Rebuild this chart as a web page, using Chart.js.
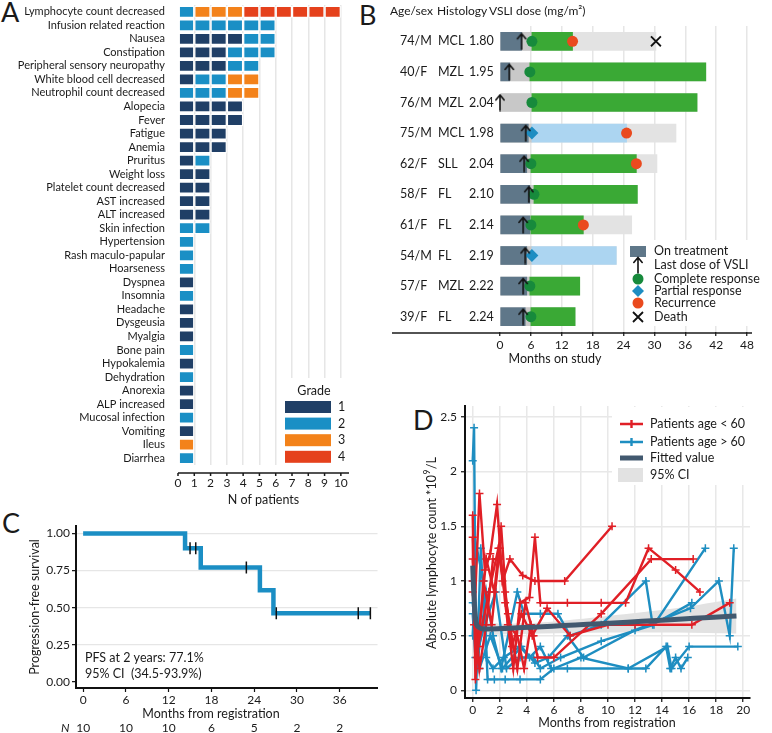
<!DOCTYPE html>
<html>
<head>
<meta charset="utf-8">
<script src="https://cdn.jsdelivr.net/npm/chart.js@4.4.1/dist/chart.umd.min.js"></script>
<style>
  body { margin: 0; background: #fff; width: 772px; height: 733px; position: relative; overflow: hidden; font-family: Lato, sans-serif; color: #1a1a1a; }
  canvas { position: absolute; }
  .tag { position: absolute; font-size: 27px; line-height: 27px; }
</style>
</head>
<body>
<div class="tag" style="left:1px;top:-2px">A</div>
<div class="tag" style="left:359px;top:1px">B</div>
<div class="tag" style="left:2px;top:509px">C</div>
<div class="tag" style="left:413px;top:406px">D</div>
<canvas id="aeChart" width="360" height="510" style="left:0;top:0"></canvas>
<canvas id="swimChart" width="402" height="370" style="left:370px;top:0"></canvas>
<canvas id="pfsChart" width="385" height="228" style="left:0;top:505px"></canvas>
<canvas id="lymphChart" width="392" height="338" style="left:380px;top:395px"></canvas>
<script>
// ---- panel A data
const aeNames = ['Lymphocyte count decreased', 'Infusion related reaction', 'Nausea', 'Constipation',
  'Peripheral sensory neuropathy', 'White blood cell decreased', 'Neutrophil count decreased', 'Alopecia',
  'Fever', 'Fatigue', 'Anemia', 'Pruritus', 'Weight loss', 'Platelet count decreased', 'AST increased',
  'ALT increased', 'Skin infection', 'Hypertension', 'Rash maculo-papular', 'Hoarseness', 'Dyspnea',
  'Insomnia', 'Headache', 'Dysgeusia', 'Myalgia', 'Bone pain', 'Hypokalemia', 'Dehydration', 'Anorexia',
  'ALP increased', 'Mucosal infection', 'Vomiting', 'Ileus', 'Diarrhea'];
const grade1 = [0, 0, 4, 3, 3, 1, 0, 4, 4, 3, 3, 1, 2, 2, 2, 2, 0, 0, 0, 0, 1, 0, 1, 1, 1, 0, 1, 0, 1, 1, 0, 1, 0, 0];
const grade2 = [1, 6, 2, 3, 2, 2, 3, 0, 0, 0, 0, 1, 0, 0, 0, 0, 2, 1, 1, 1, 0, 1, 0, 0, 0, 1, 0, 1, 0, 0, 1, 0, 0, 1];
const grade3 = [3, 0, 0, 0, 0, 2, 2, 0, 0, 0, 0, 0, 0, 0, 0, 0, 0, 0, 0, 0, 0, 0, 0, 0, 0, 0, 0, 0, 0, 0, 0, 0, 1, 0];
const grade4 = [6, 0, 0, 0, 0, 0, 0, 0, 0, 0, 0, 0, 0, 0, 0, 0, 0, 0, 0, 0, 0, 0, 0, 0, 0, 0, 0, 0, 0, 0, 0, 0, 0, 0];
const gradeLabels = ['1', '2', '3', '4'];
const gradeColors = ['#203f66', '#1a8fc5', '#f3821a', '#e5411c'];
const aeTicks = [0, 1, 2, 3, 4, 5, 6, 7, 8, 9, 10];

// ---- panel B data
const patients = ['74/M', '40/F', '76/M', '75/M', '62/F', '58/F', '61/F', '54/M', '57/F', '39/F'];
const histology = ['MCL', 'MZL', 'MZL', 'MCL', 'SLL', 'FL', 'FL', 'FL', 'MZL', 'FL'];
const doses = ['1.80', '1.95', '2.04', '1.98', '2.04', '2.10', '2.14', '2.19', '2.22', '2.24'];
const treatEnd = [4.2, 1.9, 0, 5.5, 5.2, 5.8, 5.8, 5.2, 5.2, 4.9];
const lastDose = [4.2, 1.8, 0, 5.0, 4.7, 5.6, 4.5, 4.9, 4.5, 4.5];
const respType = ['CR', 'CR', 'CR', 'PR', 'CR', 'CR', 'CR', 'PR', 'CR', 'CR'];
const respStart = [6.2, 5.8, 6.2, 6.2, 6.0, 6.6, 6.0, 6.2, 5.8, 6.0];
const respEnd = [14.1, 40.0, 38.3, 24.6, 26.5, 26.7, 16.2, 22.6, 15.5, 14.6];
const followEnd = [30.3, 40.0, 38.3, 34.2, 30.5, 26.7, 25.6, 22.6, 15.5, 14.6];
const recurrence = [14.1, null, null, 24.6, 26.5, null, 16.2, null, null, null];
const death = [30.3, null, null, null, null, null, null, null, null, null];
const swimTicks = [0, 6, 12, 18, 24, 30, 36, 42, 48];

// ---- panel C data
const kmTime = [0, 14.3, 16.5, 24.8, 26.7, 40.3];
const kmSurv = [1, 0.9, 0.771, 0.617, 0.463, 0.463];
const censorTime = [15.0, 15.8, 22.9, 27.1, 38.6, 40.3];
const riskTimes = [0, 6, 12, 18, 24, 30, 36];
const atRisk = [10, 10, 10, 6, 5, 2, 2];
const pfsYTicks = [0, 0.25, 0.5, 0.75, 1];

// ---- panel D data: [month, count]
const young1 = [[0, 1.4], [0.1, 0.6], [0.5, 1.8], [0.9, 1.1], [1.3, 1.25], [1.8, 1.7], [2.2, 1.0], [2.75, 1.2], [3.7, 1.05], [4.6, 1.0], [6.8, 1.0], [10.3, 1.5]];
const young2 = [[0, 1.6], [0.2, 0.1], [0.8, 1.0], [1.4, 0.6], [2.0, 1.3], [2.4, 0.8], [3.0, 0.2], [3.5, 0.8], [4.2, 0.85], [4.6, 1.4], [5.0, 0.8], [7.0, 0.8], [9.5, 0.8], [11.3, 0.8], [13.0, 1.3], [15.0, 1.1], [16.8, 0.9]];
const young3 = [[0, 1.2], [0.3, 0.3], [1.0, 1.2], [1.6, 0.9], [2.1, 1.5], [2.6, 0.6], [3.3, 0.5], [3.8, 0.2], [4.3, 0.6], [4.8, 0.3], [6.0, 0.3], [9.5, 0.7], [13.2, 1.2], [16.3, 1.2]];
const young4 = [[0, 0.9], [0.4, 0.4], [1.2, 0.9], [1.9, 1.3], [2.4, 0.9], [2.9, 0.4], [3.6, 0.7], [4.4, 0.5], [5.5, 0.75], [7.2, 0.5], [10.0, 0.6], [12.0, 0.6], [16.2, 0.6], [19.0, 0.8]];
const young5 = [[0, 1.0], [0.5, 0.2], [1.0, 0.6], [1.5, 1.2], [2.0, 1.2], [2.6, 0.7], [3.3, 0.2], [3.9, 0.8], [4.5, 0.5]];
const old1 = [[0, 2.1], [0.1, 2.4], [0.25, 0], [0.6, 1.3], [1.0, 0.3], [1.5, 0.2], [2.3, 0.3], [3.5, 0.4], [4.2, 0.3], [5.0, 0.4], [5.8, 0.2], [7.0, 0.2], [11.5, 0.2], [12.8, 0.2], [14.3, 0.4], [14.6, 0.2], [15.0, 0.3], [15.4, 0.2], [15.9, 0.3]];
const old2 = [[0, 0.5], [0.3, 1.3], [0.8, 1.0], [1.1, 0.1], [1.6, 0.1], [2.4, 0.1], [3.5, 0.1], [5.0, 0.1], [6.0, 0.2], [8.0, 0.3], [11.5, 0.2], [14.4, 0.4], [14.7, 0.2], [16.0, 0.4], [19.6, 0.4]];
const old3 = [[0, 1.0], [0.4, 0.3], [1.0, 0.9], [1.5, 0.5], [2.1, 0.2], [3.3, 0.9], [3.8, 0.7], [5.0, 0.7], [6.3, 0.7], [7.2, 0.5], [9.5, 0.6], [12.8, 1.0], [13.3, 0.6], [16.2, 0.8]];
const old4 = [[0, 0.7], [0.2, 0.3], [0.9, 0.6], [1.7, 0.9], [2.5, 0.2], [3.5, 0.3], [4.5, 0.3], [5.0, 0.2], [6.5, 0.3], [9.5, 0.45], [13.4, 0.6], [17.2, 1.3]];
const old5 = [[0, 0.8], [0.5, 0.2], [1.3, 0.5], [2.2, 0.2], [3.6, 0.4], [4.6, 0.25], [5.6, 0.3], [7.0, 0.5], [8.2, 0.3], [12.0, 0.55], [16.1, 0.75], [18.2, 1.0], [19.0, 0.5], [19.3, 1.3]];
const fitX = [0, 0.1, 0.3, 0.8, 19.5];
const fitY = [1.14, 0.85, 0.6, 0.56, 0.68];
const ciX = [0, 2, 5, 10, 15, 19.5];
const ciLow = [0.49, 0.51, 0.52, 0.53, 0.53, 0.52];
const ciHigh = [0.64, 0.61, 0.62, 0.68, 0.75, 0.84];
const lymphXTicks = [0, 2, 4, 6, 8, 10, 12, 14, 16, 18, 20];
const lymphYTicks = [0, 0.5, 1, 1.5, 2, 2.5];

Chart.defaults.font.family = 'Lato, "Open Sans", sans-serif';
Chart.defaults.font.size = 12;
Chart.defaults.color = '#1a1a1a';
Chart.defaults.animation = false;
Chart.defaults.plugins.legend.display = false;
Chart.defaults.plugins.tooltip.enabled = false;

const ink = '#1a1a1a';
const gridGrey = '#e6e6e6';

function fixSize(w, h) {
  return function (s) {
    if (w != null) s.width = w;
    if (h != null) s.height = h;
    s.paddingTop = 0; s.paddingBottom = 0; s.paddingLeft = 0; s.paddingRight = 0;
  };
}
function useTicks(values) {
  return s => { s.ticks = values.map(v => ({ value: v })); };
}

function text(ctx, str, x, y, opts) {
  opts = opts || {};
  ctx.save();
  ctx.font = (opts.style || '') + ' ' + (opts.size || 12) + 'px Lato, "Open Sans", sans-serif';
  ctx.fillStyle = opts.color || ink;
  ctx.textAlign = opts.align || 'left';
  ctx.textBaseline = 'middle';
  if (opts.rotate) {
    ctx.translate(x, y);
    ctx.rotate(opts.rotate);
    ctx.fillText(str, 0, 0);
  } else {
    ctx.fillText(str, x, y);
  }
  ctx.restore();
}

// ================= A: adverse events
const unitGrades = aeNames.map((_, i) => [].concat(
  Array(grade1[i]).fill(0), Array(grade2[i]).fill(1), Array(grade3[i]).fill(2), Array(grade4[i]).fill(3)));
const maxUnits = Math.max(...unitGrades.map(u => u.length));
const unitSets = [];
for (let k = 0; k < maxUnits; k++) {
  unitSets.push({
    data: unitGrades.map(u => k < u.length ? 1 : null),
    backgroundColor: unitGrades.map(u => k < u.length ? gradeColors[u[k]] : 'transparent'),
    borderColor: '#fff',
    borderWidth: 1.2,
    borderSkipped: false,
    barPercentage: 0.9,
    categoryPercentage: 1
  });
}

const aeExtras = {
  id: 'aeExtras',
  afterDraw(chart) {
    const ctx = chart.ctx, xs = chart.scales.x, area = chart.chartArea;
    const yAxis = area.bottom + 8;
    ctx.save();
    ctx.strokeStyle = ink;
    ctx.lineWidth = 1.5;
    ctx.beginPath();
    ctx.moveTo(area.left, yAxis); ctx.lineTo(area.right, yAxis);
    aeTicks.forEach(v => {
      const px = xs.getPixelForValue(v);
      ctx.moveTo(px, yAxis); ctx.lineTo(px, yAxis + 3);
    });
    ctx.stroke();
    // legend
    ctx.fillStyle = '#fff';
    ctx.fillRect(279, 378, 80, 88);
    text(ctx, 'Grade', 314, 391, { align: 'center', size: 12.5 });
    gradeLabels.forEach((g, i) => {
      const cy = 407 + i * 16.6;
      ctx.fillStyle = gradeColors[i];
      ctx.fillRect(285, cy - 6, 46, 12);
      text(ctx, g, 338, cy, { size: 12.5 });
    });
    ctx.restore();
  }
};

new Chart(document.getElementById('aeChart'), {
  type: 'bar',
  data: { labels: aeNames, datasets: unitSets },
  options: {
    responsive: false,
    indexAxis: 'y',
    layout: { padding: { top: 5, right: 11 } },
    scales: {
      x: {
        stacked: true, min: 0, max: 10.5,
        border: { display: false },
        grid: { color: c => (c.tick && c.tick.value > 0) ? gridGrey : 'transparent', lineWidth: 1.5, drawTicks: false },
        ticks: { padding: 11, font: { size: 12 }, maxRotation: 0, minRotation: 0, autoSkip: false },
        afterBuildTicks: useTicks(aeTicks),
        title: { display: true, text: 'N of patients', font: { size: 12.5 }, padding: { top: 0, bottom: 3 } },
        afterFit: fixSize(null, 45)
      },
      y: {
        stacked: true,
        grid: { display: false },
        border: { display: false },
        ticks: { autoSkip: false, padding: 5, font: { size: 11 } },
        afterFit: fixSize(178, null)
      }
    }
  },
  plugins: [aeExtras]
});

// ================= B: swimmer plot
function makeArrow() {
  const c = document.createElement('canvas');
  c.width = 12; c.height = 18;
  const g = c.getContext('2d');
  g.strokeStyle = '#111'; g.lineWidth = 1.6; g.lineCap = 'round';
  g.beginPath();
  g.moveTo(6, 17); g.lineTo(6, 2);
  g.moveTo(1.8, 6.5); g.lineTo(6, 1.5); g.lineTo(10.2, 6.5);
  g.stroke();
  return c;
}
const arrowImg = makeArrow();
const swimColors = { treat: '#5f7789', cr: '#3aa935', pr: '#acd5f1', pre: '#c8c8c8', follow: '#e3e3e3',
  crDot: '#178a3c', prDot: '#1d8dc2', rec: '#ea4a1e' };

function markerPoints(vals) {
  const pts = [];
  vals.forEach((v, i) => { if (v != null) pts.push({ x: v, y: patients[i] }); });
  return pts;
}

const swimExtras = {
  id: 'swimExtras',
  afterDraw(chart) {
    const ctx = chart.ctx, ys = chart.scales.y, area = chart.chartArea;
    text(ctx, 'Age/sex', 20, 11, { size: 12 });
    text(ctx, 'Histology', 67, 11, { size: 12 });
    text(ctx, 'VSLI dose (mg/m²)', 119, 11, { size: 12 });
    patients.forEach((p, i) => {
      const cy = ys.getPixelForValue(i);
      text(ctx, p, 30, cy, { size: 12.5 });
      text(ctx, histology[i], 68, cy, { size: 12.5 });
      text(ctx, doses[i], 99, cy, { size: 12.5 });
    });
    ctx.save();
    ctx.strokeStyle = ink; ctx.lineWidth = 1.5;
    ctx.beginPath();
    ctx.moveTo(22, area.bottom + 1); ctx.lineTo(area.right + 5, area.bottom + 1);
    ctx.stroke();
    ctx.restore();
    text(ctx, 'Months on study', 185, 359, { align: 'center', size: 12.5 });
    // legend
    ctx.save();
    ctx.fillStyle = '#fff';
    ctx.fillRect(256, 240, 146, 86);
    const mx = 268, tx = 284;
    ctx.fillStyle = swimColors.treat;
    ctx.fillRect(mx - 8, 246, 16, 11);
    ctx.drawImage(arrowImg, mx - 6, 265 - 9);
    ctx.fillStyle = swimColors.crDot;
    ctx.beginPath(); ctx.arc(mx, 279, 5.5, 0, Math.PI * 2); ctx.fill();
    ctx.fillStyle = swimColors.prDot;
    ctx.beginPath(); ctx.moveTo(mx, 285); ctx.lineTo(mx + 6, 291); ctx.lineTo(mx, 297); ctx.lineTo(mx - 6, 291); ctx.closePath(); ctx.fill();
    ctx.fillStyle = swimColors.rec;
    ctx.beginPath(); ctx.arc(mx, 303, 5.5, 0, Math.PI * 2); ctx.fill();
    ctx.strokeStyle = '#111'; ctx.lineWidth = 1.8;
    ctx.beginPath(); ctx.moveTo(mx - 5, 312); ctx.lineTo(mx + 5, 322); ctx.moveTo(mx + 5, 312); ctx.lineTo(mx - 5, 322); ctx.stroke();
    ctx.restore();
    ['On treatment', 'Last dose of VSLI', 'Complete response', 'Partial response', 'Recurrence', 'Death']
      .forEach((s, i) => text(ctx, s, tx, [251, 265, 279, 291, 303, 317][i], { size: 12.5 }));
  }
};

new Chart(document.getElementById('swimChart'), {
  type: 'bar',
  data: {
    labels: patients,
    datasets: [
      { type: 'scatter', order: -2, clip: false, data: markerPoints(lastDose), pointStyle: arrowImg, pointRadius: 8 },
      { type: 'scatter', order: -1, clip: false, data: markerPoints(death), pointStyle: 'crossRot', pointRadius: 7, borderColor: '#111', borderWidth: 1.8 },
      { type: 'scatter', order: -1, clip: false, data: markerPoints(recurrence), pointStyle: 'circle', pointRadius: 5.5, backgroundColor: swimColors.rec, borderWidth: 0 },
      { type: 'scatter', order: -1, clip: false, data: markerPoints(respStart.map((s, i) => respType[i] === 'CR' ? s : null)), pointStyle: 'circle', pointRadius: 5.5, backgroundColor: swimColors.crDot, borderWidth: 0 },
      { type: 'scatter', order: -1, clip: false, data: markerPoints(respStart.map((s, i) => respType[i] === 'PR' ? s : null)), pointStyle: 'rectRot', pointRadius: 6.5, backgroundColor: swimColors.prDot, borderWidth: 0 },
      { label: 'On treatment', data: treatEnd.map(t => t > 0 ? [0, t] : null), backgroundColor: swimColors.treat },
      { label: 'Complete response', data: respStart.map((s, i) => respType[i] === 'CR' ? [s, respEnd[i]] : null), backgroundColor: swimColors.cr },
      { label: 'Partial response', data: respStart.map((s, i) => respType[i] === 'PR' ? [s, respEnd[i]] : null), backgroundColor: swimColors.pr },
      { label: 'Before response', data: respStart.map(s => [0, s]), backgroundColor: swimColors.pre },
      { label: 'Follow-up', data: followEnd.map(e => [0, e]), backgroundColor: swimColors.follow }
    ]
  },
  options: {
    responsive: false,
    indexAxis: 'y',
    datasets: { bar: { grouped: false, barThickness: 18 } },
    layout: { padding: { top: 26, right: 25 } },
    scales: {
      x: {
        min: 0, max: 48,
        border: { display: false },
        grid: { color: c => (c.tick && c.tick.value > 0) ? gridGrey : 'transparent', lineWidth: 1.5, tickColor: '#111', tickLength: 4, tickWidth: 1.2 },
        ticks: { padding: 2, font: { size: 12 }, maxRotation: 0, minRotation: 0, autoSkip: false },
        afterBuildTicks: useTicks(swimTicks),
        afterFit: fixSize(null, 38)
      },
      y: {
        grid: { display: false },
        border: { display: false },
        ticks: { display: false },
        afterFit: fixSize(130, null)
      }
    }
  },
  plugins: [swimExtras]
});

// ================= C: progression-free survival
function survAt(t) {
  let s = kmSurv[0];
  kmTime.forEach((k, i) => { if (k <= t) s = kmSurv[i]; });
  return s;
}

const pfsExtras = {
  id: 'pfsExtras',
  afterDraw(chart) {
    const ctx = chart.ctx, xs = chart.scales.x;
    text(ctx, 'Progression-free survival', 35, 102, { align: 'center', size: 12.5, rotate: -Math.PI / 2 });
    text(ctx, 'PFS at 2 years: 77.1%', 85, 153, { size: 12.5 });
    text(ctx, '95% CI  (34.5-93.9%)', 85, 169, { size: 12.5 });
    text(ctx, 'Months from registration', 211, 209, { align: 'center', size: 12.5 });
    text(ctx, 'N', 61, 223, { size: 12, style: 'italic' });
    riskTimes.forEach((t, i) => text(ctx, String(atRisk[i]), xs.getPixelForValue(t), 223, { align: 'center', size: 12 }));
  }
};

new Chart(document.getElementById('pfsChart'), {
  type: 'line',
  data: {
    datasets: [
      { data: censorTime.map(t => ({ x: t, y: survAt(t) })), showLine: false, pointStyle: 'line', rotation: 90,
        pointRadius: 6, pointBorderColor: '#111', pointBorderWidth: 1.5 },
      { data: kmTime.map((t, i) => ({ x: t, y: kmSurv[i] })), stepped: true, borderColor: '#1b8ec4', borderWidth: 4.5, pointRadius: 0 }
    ]
  },
  options: {
    responsive: false,
    layout: { padding: { top: 21, right: 7 } },
    scales: {
      x: {
        type: 'linear', min: -1, max: 41.3,
        border: { color: '#111', width: 2 },
        grid: { drawOnChartArea: false, tickColor: '#111', tickLength: 4, tickWidth: 1.2 },
        ticks: { padding: 1, font: { size: 12 }, maxRotation: 0, minRotation: 0, autoSkip: false },
        afterBuildTicks: useTicks(riskTimes),
        afterFit: fixSize(null, 45)
      },
      y: {
        min: -0.04, max: 1.05,
        border: { color: '#111', width: 2 },
        grid: { color: c => (c.tick && c.tick.value > 0) ? gridGrey : 'transparent', lineWidth: 1.3, tickColor: '#111', tickLength: 4, tickWidth: 1.2 },
        ticks: { padding: 2, font: { size: 12 }, callback: v => v.toFixed(2) },
        afterBuildTicks: useTicks(pfsYTicks),
        afterFit: fixSize(76, null)
      }
    }
  },
  plugins: [pfsExtras]
});

// ================= D: lymphocyte counts
const youngColor = '#e01f26', oldColor = '#1e8ec1', fitColor = '#42596f', ciColor = '#e2e2e2';
function patientLine(pts, color) {
  return {
    data: pts.map(p => ({ x: p[0], y: p[1] })),
    borderColor: color, borderWidth: 2.4,
    pointStyle: 'cross', pointRadius: 4, pointBorderColor: color, pointBorderWidth: 1.5,
    tension: 0, order: 0
  };
}

const lymphExtras = {
  id: 'lymphExtras',
  afterDraw(chart) {
    const ctx = chart.ctx;
    // y title with superscript
    ctx.save();
    ctx.translate(52, 158);
    ctx.rotate(-Math.PI / 2);
    ctx.fillStyle = ink;
    ctx.textBaseline = 'middle';
    const big = '12.5px Lato, sans-serif', small = '8.5px Lato, sans-serif';
    const a = 'Absolute lymphocyte count *10', b = '/L';
    ctx.font = big; const wa = ctx.measureText(a).width, wb = ctx.measureText(b).width;
    ctx.font = small; const w9 = ctx.measureText('9').width + 1;
    let x0 = -(wa + w9 + wb) / 2;
    ctx.font = big; ctx.fillText(a, x0, 0);
    ctx.font = small; ctx.fillText('9', x0 + wa + 0.5, -5);
    ctx.font = big; ctx.fillText(b, x0 + wa + w9, 0);
    ctx.restore();
    text(ctx, 'Months from registration', 227, 328, { align: 'center', size: 12.5 });
    ctx.save();
    ctx.fillStyle = '#fff';
    ctx.fillRect(232, 12, 138, 78);
    [[youngColor, 29], [oldColor, 47]].forEach(([c, y]) => {
      ctx.strokeStyle = c; ctx.lineWidth = 2.4;
      ctx.beginPath(); ctx.moveTo(240, y); ctx.lineTo(263, y);
      ctx.moveTo(251.5, y - 4); ctx.lineTo(251.5, y + 4); ctx.stroke();
    });
    ctx.strokeStyle = fitColor; ctx.lineWidth = 5;
    ctx.beginPath(); ctx.moveTo(240, 63); ctx.lineTo(263, 63); ctx.stroke();
    ctx.fillStyle = ciColor;
    ctx.fillRect(238, 73, 25, 14);
    ctx.restore();
    text(ctx, 'Patients age < 60', 270, 29, { size: 12.5 });
    text(ctx, 'Patients age > 60', 270, 47, { size: 12.5 });
    text(ctx, 'Fitted value', 270, 63, { size: 12.5 });
    text(ctx, '95% CI', 270, 80, { size: 12.5 });
  }
};

new Chart(document.getElementById('lymphChart'), {
  type: 'line',
  data: {
    datasets: [
      { data: ciX.map((x, i) => ({ x, y: ciLow[i] })), borderWidth: 0, pointRadius: 0, fill: false, order: 2 },
      { data: ciX.map((x, i) => ({ x, y: ciHigh[i] })), borderWidth: 0, pointRadius: 0, fill: '-1', backgroundColor: ciColor, order: 1, tension: 0.3 },
      patientLine(young1, youngColor), patientLine(young2, youngColor), patientLine(young3, youngColor),
      patientLine(young4, youngColor), patientLine(young5, youngColor),
      patientLine(old1, oldColor), patientLine(old2, oldColor), patientLine(old3, oldColor),
      patientLine(old4, oldColor), patientLine(old5, oldColor),
      { data: fitX.map((x, i) => ({ x, y: fitY[i] })), borderColor: fitColor, borderWidth: 5, pointRadius: 0, tension: 0.3, order: -1 }
    ]
  },
  options: {
    responsive: false,
    layout: { padding: { top: 11, right: 22 } },
    scales: {
      x: {
        type: 'linear', min: -0.57, max: 20.5,
        border: { color: '#111', width: 2 },
        grid: { color: '#e8e8e8', lineWidth: 1.5, tickColor: '#111', tickLength: 4, tickWidth: 1.2 },
        ticks: { padding: 1, font: { size: 12 }, maxRotation: 0, minRotation: 0, autoSkip: false },
        afterBuildTicks: useTicks(lymphXTicks),
        afterFit: fixSize(null, 35)
      },
      y: {
        min: -0.07, max: 2.6,
        border: { color: '#111', width: 2 },
        grid: { color: '#e8e8e8', lineWidth: 1.5, tickColor: '#111', tickLength: 4, tickWidth: 1.2 },
        ticks: { padding: 4, font: { size: 12 }, callback: v => String(+v.toFixed(2)) },
        afterBuildTicks: useTicks(lymphYTicks),
        afterFit: fixSize(85, null)
      }
    }
  },
  plugins: [lymphExtras]
});
</script>
</body>
</html>
